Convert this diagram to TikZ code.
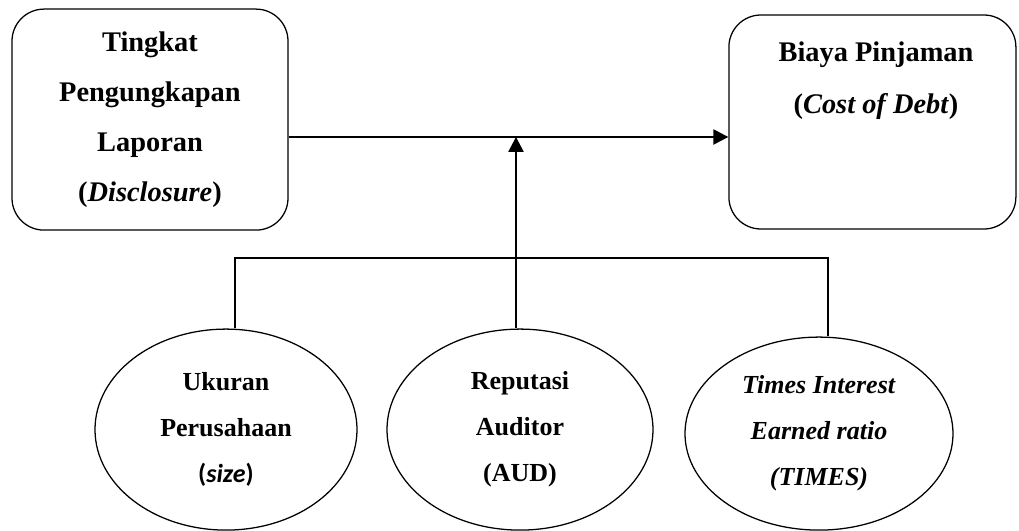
\documentclass[tikz,border=0pt]{standalone}
\usepackage{fontspec}
\setmainfont{Liberation Serif}
\newfontfamily\calibri{Carlito}
\usetikzlibrary{shapes.geometric,arrows.meta}
\begin{document}
\begin{tikzpicture}[
  varbox/.style={draw, line width=0.9pt, rounded corners=0.8cm, align=center},
  varell/.style={draw, ellipse, line width=0.9pt, inner sep=0pt, align=center,
    font=\fontsize{18.5}{32.7}\selectfont\bfseries},
  link/.style={line width=0.9pt},
  arrow/.style={-{Triangle[length=0.37cm, width=0.38cm]}, line width=0.9pt}
]
\useasboundingbox (0,0) rectangle (25.475,-13.275);
\node[varbox, minimum width=6.9cm, minimum height=5.525cm,
  font=\fontsize{20.2}{35.6}\selectfont\bfseries] (disc) at (3.75,-2.99)
  {Tingkat\\Pengungkapan\\Laporan\\(\textit{Disclosure})};
\node[varbox, minimum width=7.175cm, minimum height=5.35cm] (cod) at (21.81,-3.05) {};
\node[align=center, font=\fontsize{20.2}{37}\selectfont\bfseries] (codtxt) at (21.9,-2.025)
  {Biaya Pinjaman\\(\textit{Cost of Debt})};
\node[varell, minimum width=6.55cm, minimum height=5.025cm] (size) at (5.65,-10.74)
  {Ukuran\\Perusahaan\\{\calibri\bfseries(\textit{size})}};
\node[varell, minimum width=6.65cm, minimum height=5.025cm] (aud) at (13.0,-10.74)
  {Reputasi\\Auditor\\(AUD)};
\node[varell, minimum width=6.7cm, minimum height=4.825cm] (times) at (20.475,-10.84)
  {\textit{Times Interest}\\\textit{Earned ratio}\\\textit{(TIMES)}};
\coordinate (mid) at (12.9,-3.425);
\coordinate (barL) at (5.875,-6.45);
\coordinate (barR) at (20.7,-6.45);
\draw[arrow] (disc.east |- mid) -- (cod.west |- mid);
\draw[link] (barL |- size.north) -- (barL) -- (barR) -- (barR |- times.north);
\draw[arrow] (mid |- aud.north) -- (mid);
\end{tikzpicture}
\end{document}
